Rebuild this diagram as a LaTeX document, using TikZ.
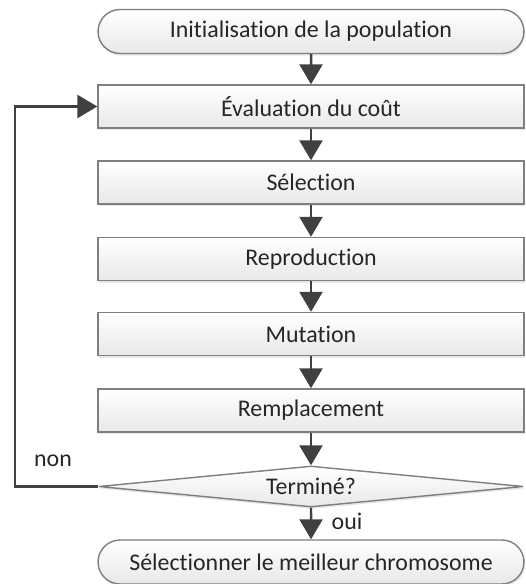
\documentclass[tikz,border=0pt]{standalone}
\usepackage{fontspec}
\setmainfont{Carlito}[Ligatures=NoCommon]
\usetikzlibrary{arrows.meta,shapes,shadows}
\definecolor{lineGray}{HTML}{7F7F7F}
\definecolor{arrowGray}{HTML}{404040}
\definecolor{textGray}{HTML}{262626}
\tikzstyle{nBox}=[rectangle,draw=lineGray,line width=0.8pt,top color=white,bottom color=black!9,minimum width=8.52cm,minimum height=0.86cm,inner sep=0pt,font=\fontsize{13.6}{16}\selectfont,text=textGray,drop shadow={opacity=0.2,shadow xshift=0.6pt,shadow yshift=-1.2pt}]
\tikzstyle{nTerm}=[nBox,rounded rectangle,minimum height=0.88cm]
\tikzstyle{nTest}=[nBox,diamond,aspect=10,minimum width=8.5cm,minimum height=0.82cm]
\tikzstyle{eArrow}=[draw=arrowGray,line width=1.4pt,-{Triangle[length=0.4cm,width=0.46cm]}]
\tikzstyle{eLabel}=[inner sep=0pt,font=\fontsize{13.6}{16}\selectfont,text=textGray]

\begin{document}
\begin{tikzpicture}[x=0.02cm,y=-0.02cm]%[1 unit = 1 px]

                \useasboundingbox (0,0) rectangle (526,584);

                \draw (311,31.5) node[nTerm] (n0) {Initialisation de la population};
                \draw (311,106.5) node[nBox] (n1) {Évaluation du coût};
                \draw (311,182.5) node[nBox] (n2) {Sélection};
                \draw (311,259) node[nBox] (n3) {Reproduction};
                \draw (311,334) node[nBox] (n4) {Mutation};
                \draw (311,410.5) node[nBox] (n5) {Remplacement};
                \draw (311,486.5) node[nTest] (n6) {Terminé?};
                \draw (311,562) node[nTerm] (n7) {Sélectionner le meilleur chromosome};

                \draw (53,461) node[eLabel] (lNon) {non};
                \draw (347,521) node[eLabel] (lOui) {oui};
                \coordinate (c0) at (15,486.5);

                \path
                    (n0) edge[eArrow] (n1)
                    (n1) edge[eArrow] (n2)
                    (n2) edge[eArrow] (n3)
                    (n3) edge[eArrow] (n4)
                    (n4) edge[eArrow] (n5)
                    (n5) edge[eArrow] (n6)
                    (n6) edge[eArrow] (n7)
                ;
                % boucle non
                \draw[eArrow] (n6.west) -- (c0) |- (n1.west);

        \end{tikzpicture}
\end{document}
